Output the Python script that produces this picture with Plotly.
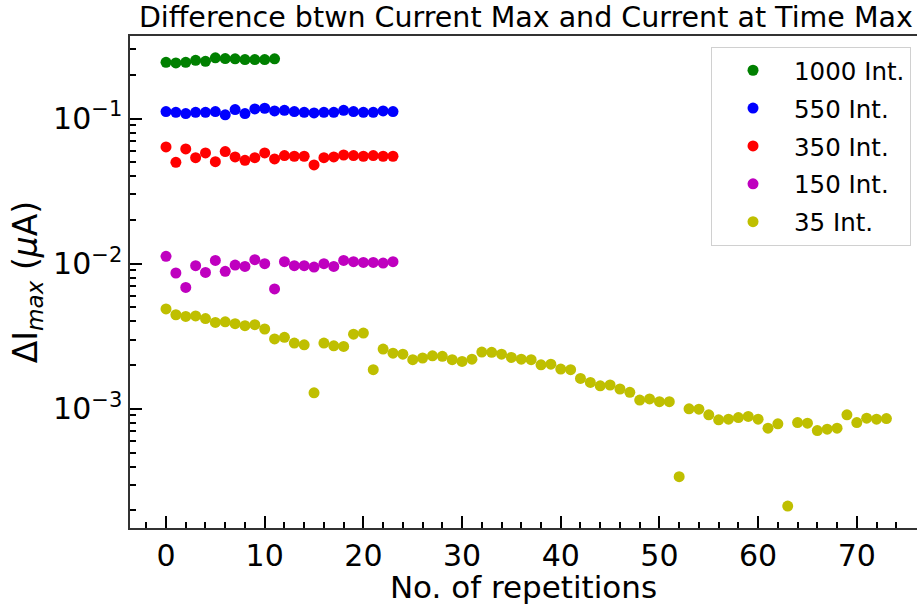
import plotly.graph_objects as go

reps_1000 = list(range(12))
vals_1000 = [0.244, 0.242, 0.244, 0.252, 0.248, 0.262, 0.259, 0.258, 0.255, 0.255, 0.255, 0.258]

reps_550 = list(range(24))
vals_550 = [0.1117, 0.1105, 0.1083, 0.1105, 0.1105, 0.1117, 0.1061, 0.1153, 0.1083, 0.1166, 0.1178, 0.1130,
            0.1141, 0.1117, 0.1105, 0.1094, 0.1105, 0.1105, 0.1141, 0.1117, 0.1105, 0.1105, 0.1130, 0.1117]

reps_350 = list(range(24))
vals_350 = [0.0638, 0.0500, 0.0618, 0.0538, 0.0580, 0.0505, 0.0592, 0.0544, 0.0516, 0.0538, 0.0580, 0.0527,
            0.0556, 0.0550, 0.0550, 0.0479, 0.0538, 0.0544, 0.0561, 0.0556, 0.0550, 0.0556, 0.0550, 0.0550]

reps_150 = list(range(24))
vals_150 = [0.01124, 0.00863, 0.00687, 0.00969, 0.00871, 0.01054, 0.00886, 0.00979, 0.00958, 0.01066, 0.0100, 0.00670,
            0.01033, 0.00969, 0.00969, 0.00948, 0.0100, 0.00958, 0.01054, 0.01033, 0.01021, 0.01021, 0.0101, 0.01033]

reps_35 = list(range(74))
vals_35 = [0.00488, 0.00445, 0.00433, 0.00437, 0.00419, 0.00394, 0.00398, 0.00386, 0.00374, 0.00380,
           0.00355, 0.00303, 0.00311, 0.00284, 0.00276, 0.00129, 0.00284, 0.00272, 0.00269, 0.00327,
           0.00333, 0.00186, 0.00258, 0.00242, 0.00238, 0.00218, 0.00224, 0.00232, 0.00230, 0.00218,
           0.00212, 0.00220, 0.00246, 0.00245, 0.00238, 0.00226, 0.00220, 0.00218, 0.00201, 0.00203,
           0.00188, 0.00186, 0.00162, 0.00152, 0.00144, 0.00146, 0.00137, 0.00130, 0.00115, 0.00117,
           0.00112, 0.00112, 0.000341, 0.00100, 0.000995, 0.000910, 0.000840, 0.000849, 0.000871, 0.000886,
           0.000849, 0.000736, 0.000788, 0.000214, 0.000805, 0.000797, 0.000708, 0.000724, 0.000736, 0.000910,
           0.000805, 0.000862, 0.000849, 0.000857]

series = [
    ("1000 Int.", reps_1000, vals_1000, "#008000"),
    ("550 Int.", reps_550, vals_550, "#0000ff"),
    ("350 Int.", reps_350, vals_350, "#ff0000"),
    ("150 Int.", reps_150, vals_150, "#bf00bf"),
    ("35 Int.", reps_35, vals_35, "#bfbf00"),
]

y_tickvals = [1e-3, 1e-2, 1e-1]
y_ticktext = ["10<sup>\u22123</sup>", "10<sup>\u22122</sup>", "10<sup>\u22121</sup>"]
y_minor = [m * 10.0 ** e for e in (-4, -3, -2, -1) for m in range(2, 10)]

FONT = "DejaVu Sans"

fig = go.Figure()
for name, xs, ys, col in series:
    fig.add_trace(go.Scatter(
        x=xs, y=ys, mode="markers", name=name, legendgroup=name,
        marker=dict(color=col, size=11, line=dict(width=0)),
    ))

fig.update_layout(
    width=917, height=605,
    margin=dict(l=130, r=0, t=36, b=77),
    paper_bgcolor="white", plot_bgcolor="white",
    font=dict(family=FONT, color="black"),
    title=dict(text="Difference btwn Current Max and Current at Time Max",
               font=dict(size=28.5, family=FONT, color="black"),
               x=0.503, xref="paper", xanchor="center",
               y=1 - 17 / 605, yref="container", yanchor="middle"),
    showlegend=True,
    legend=dict(x=0.9924, xanchor="right", y=0.978, yanchor="top",
                bgcolor="rgba(255,255,255,0.8)", bordercolor="#d0d0d0", borderwidth=1,
                font=dict(size=24.5, family=FONT, color="black"),
                traceorder="grouped", tracegroupgap=3, itemwidth=72),
)

fig.update_xaxes(
    range=[-3.65, 76.1], showgrid=False, zeroline=False,
    showline=True, linecolor="#333333", linewidth=1.5, mirror=True,
    ticks="inside", ticklen=12, tickwidth=2, tickcolor="black",
    tickmode="array", tickvals=[0, 10, 20, 30, 40, 50, 60, 70],
    tickfont=dict(size=30, family=FONT, color="black"),
    minor=dict(ticks="inside", ticklen=6, tickwidth=1.5, tickcolor="black", dtick=2, showgrid=False),
    title=dict(text="No. of repetitions", font=dict(size=31, family=FONT, color="black"), standoff=4),
)

fig.update_yaxes(
    type="log", range=[-3.821, -0.431], showgrid=False, zeroline=False,
    showline=True, linecolor="#333333", linewidth=1.5, mirror=False,
    ticks="inside", ticklen=12, tickwidth=2, tickcolor="black",
    tickmode="array", tickvals=y_tickvals, ticktext=y_ticktext,
    tickfont=dict(size=30, family=FONT, color="black"),
    minor=dict(ticks="inside", ticklen=6, tickwidth=1.5, tickcolor="black", tickvals=y_minor, showgrid=False),
    title=dict(text="\u0394I<sub><i>max</i></sub> (<i>\u03bc</i>A)", font=dict(size=33, family=FONT, color="black"), standoff=6),
)

fig.write_html("out.html")
